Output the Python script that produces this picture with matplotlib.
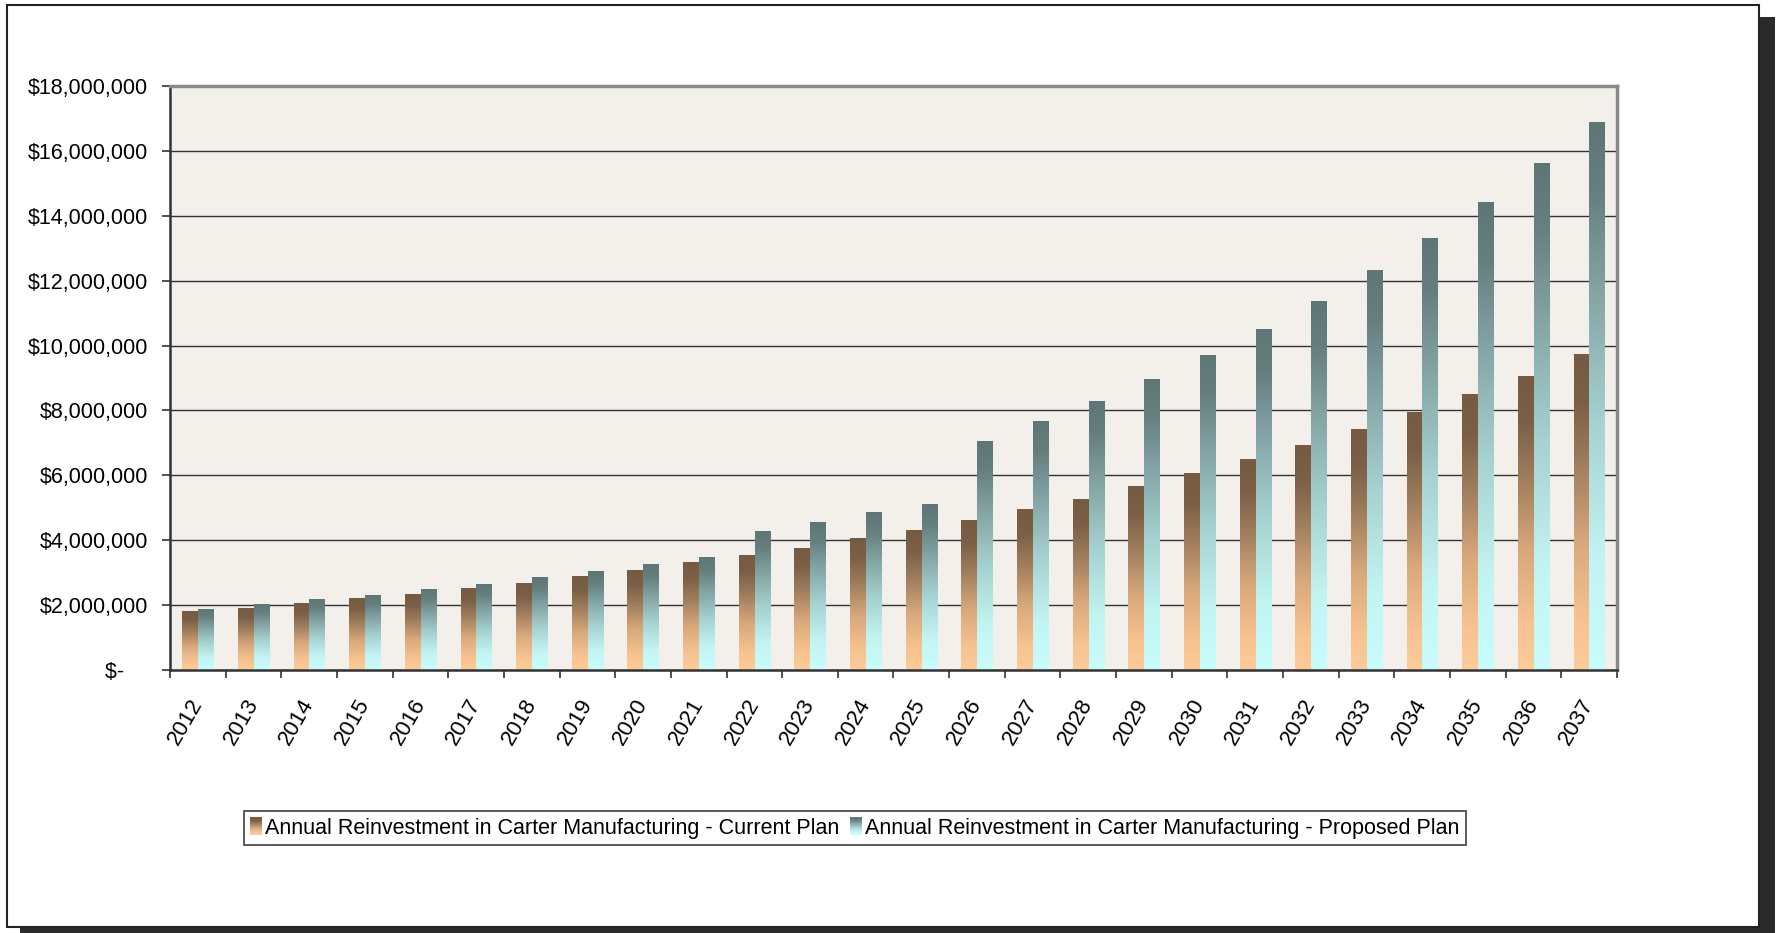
import numpy as np
import matplotlib
matplotlib.use('Agg')
import matplotlib.pyplot as plt
from matplotlib.patches import Rectangle
from matplotlib.colors import LinearSegmentedColormap
from matplotlib.legend_handler import HandlerBase
from matplotlib.ticker import FuncFormatter, MultipleLocator

plt.rcParams['font.family'] = ['Liberation Sans', 'DejaVu Sans']

# data
years = [str(y) for y in range(2012, 2038)]
current_plan = [1.79, 1.91, 2.04, 2.19, 2.34, 2.50, 2.68, 2.87, 3.08, 3.30, 3.52, 3.76, 4.04,
                4.31, 4.62, 4.94, 5.27, 5.65, 6.05, 6.48, 6.91, 7.41, 7.93, 8.48, 9.06, 9.72]
proposed_plan = [1.88, 2.01, 2.16, 2.31, 2.47, 2.65, 2.84, 3.03, 3.24, 3.46, 4.26, 4.56, 4.86,
                 5.11, 7.05, 7.65, 8.27, 8.94, 9.68, 10.49, 11.35, 12.30, 13.31, 14.42, 15.60, 16.89]
current_plan = [v * 1e6 for v in current_plan]
proposed_plan = [v * 1e6 for v in proposed_plan]
labels = ['Annual Reinvestment in Carter Manufacturing - Current Plan',
          'Annual Reinvestment in Carter Manufacturing - Proposed Plan']

W, H = 1777, 933
fig = plt.figure(figsize=(W / 100, H / 100), dpi=100, facecolor='white')

# chart frame with drop shadow
fig.add_artist(Rectangle((20 / W, 0), (1775 - 20) / W, 1 - 17 / H, transform=fig.transFigure,
                         facecolor='#2a2a2a', edgecolor='none', zorder=-3))
fig.add_artist(Rectangle((7 / W, 1 - 927 / H), 1752 / W, 922 / H, transform=fig.transFigure,
                         facecolor='white', edgecolor='#222222', lw=1.5, zorder=-2))

ax = fig.add_axes([170 / W, 1 - 670 / H, (1617 - 170) / W, (670 - 86) / H])
ax.set_facecolor('#f3f0eb')

cm_cur = LinearSegmentedColormap.from_list('cur', [(0, '#fdcc98'), (0.15, '#f7c390'), (0.4, '#d9a97c'),
                                                    (0.65, '#a07e5d'), (0.85, '#7b5f46'), (1, '#765a42')])
cm_pro = LinearSegmentedColormap.from_list('pro', [(0, '#c8fdfb'), (0.2, '#c2f4f2'), (0.45, '#a6d2d1'),
                                                    (0.7, '#82a3a2'), (0.88, '#657e7e'), (1, '#5e7676')])

x = np.arange(len(years))
w = 0.285
bars_cur = ax.bar(x + 0.505 - w / 2, current_plan, w, color='none', zorder=2)
bars_pro = ax.bar(x + 0.505 + w / 2, proposed_plan, w, color='none', zorder=2)

grad = np.linspace(0, 1, 256).reshape(-1, 1)
for bars, cm in [(bars_cur, cm_cur), (bars_pro, cm_pro)]:
    for b in bars:
        ax.imshow(grad, extent=(b.get_x(), b.get_x() + b.get_width(), 0, b.get_height()),
                  aspect='auto', cmap=cm, origin='lower', zorder=2, interpolation='bilinear')

ax.set_xlim(0, len(years))
ax.set_ylim(0, 18e6)
ax.set_aspect('auto')

ax.yaxis.set_major_locator(MultipleLocator(2e6))
ax.yaxis.set_major_formatter(FuncFormatter(
    lambda v, p: '$-\u00a0\u00a0\u00a0\u00a0' if v == 0 else '${:,.0f}'.format(v)))
ax.grid(axis='y', color='#333333', lw=1.0)
ax.set_axisbelow(True)

ax.set_xticks(np.arange(len(years) + 1))
ax.set_xticklabels([])
ax.set_xticks(x + 0.5, minor=True)
ax.set_xticklabels(years, minor=True, rotation=60, ha='right', va='center', rotation_mode='anchor')
ax.tick_params(axis='x', which='minor', length=0, pad=22, labelsize=16)
ax.tick_params(axis='x', which='major', length=6, width=1.2, color='#333333')
ax.tick_params(axis='y', length=6, width=1.2, color='#333333', pad=10, labelsize=15.5)

for s in ['left', 'bottom']:
    ax.spines[s].set_color('#333333')
    ax.spines[s].set_linewidth(1.8)
for s in ['top', 'right']:
    ax.spines[s].set_color('#8a8a8a')
    ax.spines[s].set_linewidth(2.5)


class GradHandler(HandlerBase):
    def __init__(self, cmap):
        super().__init__()
        self.cmap = cmap

    def create_artists(self, legend, orig_handle, xdescent, ydescent, width, height, fontsize, trans):
        n = 24
        arts = []
        for k in range(n):
            r = Rectangle((-xdescent, -ydescent + k * height / n), width, height / n + 0.05,
                          facecolor=self.cmap(k / (n - 1)), edgecolor='none', transform=trans)
            arts.append(r)
        return arts


h1 = Rectangle((0, 0), 1, 1)
h2 = Rectangle((0, 0), 1, 1)
leg = ax.legend([h1, h2], labels, handler_map={h1: GradHandler(cm_cur), h2: GradHandler(cm_pro)},
                loc='center', bbox_to_anchor=(855 / W, 1 - 828 / H), bbox_transform=fig.transFigure,
                ncol=2, fontsize=15.5, frameon=True, fancybox=False, handlelength=0.55, handleheight=0.9,
                handletextpad=0.15, columnspacing=0.5, borderpad=0.3, borderaxespad=0)
leg.get_frame().set_edgecolor('#222222')
leg.get_frame().set_linewidth(1.3)

fig.savefig('out.png', dpi=100, facecolor='white')
